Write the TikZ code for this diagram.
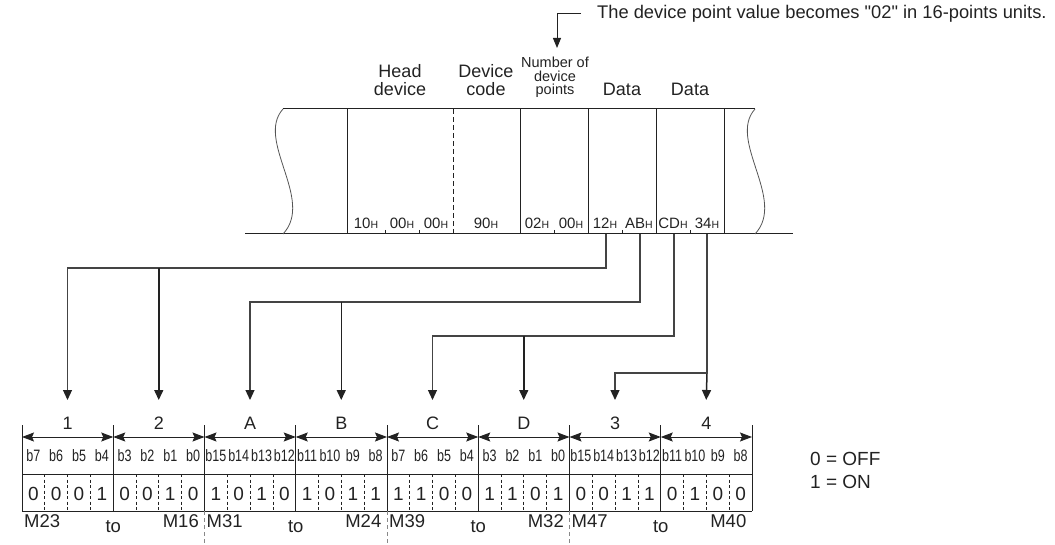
\documentclass[tikz,border=0pt]{standalone}
\usepackage{fontspec}
\setmainfont{Liberation Sans}
\newfontfamily\rawfont{Liberation Sans}[Ligatures=TeXOff]
\usetikzlibrary{arrows.meta}
\newcommand{\fsz}[1]{\fontsize{#1}{#1}\selectfont}
\newcommand{\hx}{{\fontsize{10.5}{10.5}\selectfont H}}
\definecolor{ink}{HTML}{222222}
\definecolor{lgray}{HTML}{555555}
\definecolor{cgray}{HTML}{444444}
\begin{document}
\begin{tikzpicture}[x=1pt,y=-1pt,
  ln/.style={draw=ink, line width=1pt},
  thin/.style={draw=lgray, line width=0.8pt},
  cn/.style={draw=cgray, line width=1.2pt},
  br/.style={draw=ink, line width=1.5pt},
  tip/.style={-{Triangle[length=10pt,width=9pt,color=ink]}},
  dbl/.style={{Stealth[length=12pt,width=9pt,inset=2pt]}-{Stealth[length=12pt,width=9pt,inset=2pt]}},
  lbl/.style={inner sep=0pt, anchor=base, text=ink},
  hdr/.style={lbl, align=center, font=\fontsize{18}{18}\selectfont},
  byt/.style={lbl, font=\fsz{15}},
  bit/.style={lbl, font=\fsz{16.5}},
  val/.style={lbl, font=\fsz{19}},
  mlb/.style={lbl, font=\fsz{18.5}}]
\useasboundingbox (0,0) rectangle (1055,545);

% note and leader
\node[lbl, anchor=base west, font=\fsz{18.3}] (note) at (597,19) {The device point value becomes {\rawfont"}02{\rawfont"} in 16-points units.};
\coordinate (ldr) at (581,14);
\coordinate (ntip) at (557,48);
\draw[ln, -{Triangle[length=10pt,width=8pt]}] (ldr) -| (ntip);

% header labels (base = last line)
\node[hdr] (hd) at (400,96) {Head\\device};
\node[hdr] (dc) at (486,96) {Device\\code};
\node[lbl, align=center, font=\fontsize{14.5}{13.5}\selectfont] (np) at (555,95) {Number of\\device\\points};
\node[hdr] (d1) at (622,96) {Data};
\node[hdr] (d2) at (690,96) {Data};

% frame
\coordinate (ftl) at (283,109);
\coordinate (ftr) at (755,109);
\coordinate (fbl) at (245,234);
\coordinate (fbr) at (793,234);
\draw[ln] (ftl) -- (ftr);
\draw[ln] (fbl) -- (fbr);
\draw[thin] (283,109) .. controls (255,140) and (315,200) .. (283,234);
\draw[thin] (755,109) .. controls (727,140) and (787,200) .. (755,234);
\foreach \x in {347,520,588,656,724} \draw[ln] (\x,109) -- (\x,234);
\draw[ln, dash pattern=on 5pt off 3pt] (453,109) -- (453,234);
\foreach \x in {385,419,554,622,690} \draw[ln] (\x,230) -- (\x,234);

% byte labels
\node[byt] (b10) at (366,229) {10\hx};
\node[byt] (b00a) at (402,229) {00\hx};
\node[byt] (b00b) at (436,229) {00\hx};
\node[byt] (b90) at (486,229) {90\hx};
\node[byt] (b02) at (537,229) {02\hx};
\node[byt] (b00c) at (571,229) {00\hx};
\node[byt] (b12) at (605,229) {12\hx};
\node[byt] (bAB) at (639,229) {AB\hx};
\node[byt] (bCD) at (673,229) {CD\hx};
\node[byt] (b34) at (707,229) {34\hx};

% connectors
\coordinate (s1) at (606,234);
\coordinate (s2) at (640,234);
\coordinate (s3) at (674,234);
\coordinate (s4) at (707,234);
\foreach \i/\x in {1/67.5,2/158.75,3/250,4/341.25,5/432.5,6/523.75,7/615,8/706.25}
  \coordinate (t\i) at (\x,400);
\draw[cn, tip] (s1) |- (t1 |- 0,268) -- (t1);
\draw[br, tip] (t2 |- 0,268) -- (t2);
\draw[cn, tip] (s2) |- (t3 |- 0,302) -- (t3);
\draw[br, tip] (t4 |- 0,302) -- (t4);
\draw[cn, tip] (s3) |- (t5 |- 0,336) -- (t5);
\draw[br, tip] (t6 |- 0,336) -- (t6);
\draw[cn] (s4) -- (s4 |- 0,373);
\draw[br, tip] (s4 |- 0,373) -- (t8);
\draw[cn, tip] (s4 |- 0,373) -| (t7);

% lower table
\foreach \k in {0,...,8} \draw[ln] (22+91.25*\k,425) -- (22+91.25*\k,511);
\draw[ln] (22,474) -- (752,474);
\draw[ln] (22,511) -- (752,511);
\foreach \k/\t in {0/1,1/2,2/A,3/B,4/C,5/D,6/3,7/4} {
  \draw[ln, dbl] (22+91.25*\k,437) -- (22+91.25+91.25*\k,437);
  \node[lbl, font=\fsz{18}] (g\k) at (22+45.625+91.25*\k,429) {\t};
  \foreach \j in {1,2,3}
    \draw[ln, line width=0.8pt, dash pattern=on 3pt off 2.5pt] (22+91.25*\k+22.8125*\j,474) -- (22+91.25*\k+22.8125*\j,511);
}
% bit labels
\foreach \k/\a/\b/\c/\d in {0/7/6/5/4,1/3/2/1/0,2/15/14/13/12,3/11/10/9/8,4/7/6/5/4,5/3/2/1/0,6/15/14/13/12,7/11/10/9/8} {
  \foreach \j/\n in {0/\a,1/\b,2/\c,3/\d}
    \node[bit] (bl\k\j) at (22+91.25*\k+11.40625+22.8125*\j,461) {\scalebox{0.76}[1]{b\n}};
}
% values
\foreach \k/\a/\b/\c/\d in {0/0/0/0/1,1/0/0/1/0,2/1/0/1/0,3/1/0/1/1,4/1/1/0/0,5/1/1/0/1,6/0/0/1/1,7/0/1/0/0} {
  \foreach \j/\n in {0/\a,1/\b,2/\c,3/\d}
    \node[val] (v\k\j) at (22+91.25*\k+11.40625+22.8125*\j,500) {\n};
}
% device labels
\foreach \k/\lo/\hi in {0/M23/M16,1/M31/M24,2/M39/M32,3/M47/M40} {
  \node[mlb, anchor=base west] (ml\k) at (24+182.5*\k,527) {\lo};
  \node[mlb, anchor=base east] (mh\k) at (199+182.5*\k,527) {\hi};
  \node[mlb] (mt\k) at (113.25+182.5*\k,532) {to};
}
\foreach \k in {1,2,3}
  \draw[draw=lgray!70, line width=0.8pt, dash pattern=on 4pt off 3pt] (22+182.5*\k,511) -- (22+182.5*\k,545);

% legend
\node[mlb, anchor=base west, font=\fsz{19}] (lg0) at (810,465) {0 = OFF};
\node[mlb, anchor=base west, font=\fsz{19}] (lg1) at (810,488) {1 = ON};
\end{tikzpicture}
\end{document}
